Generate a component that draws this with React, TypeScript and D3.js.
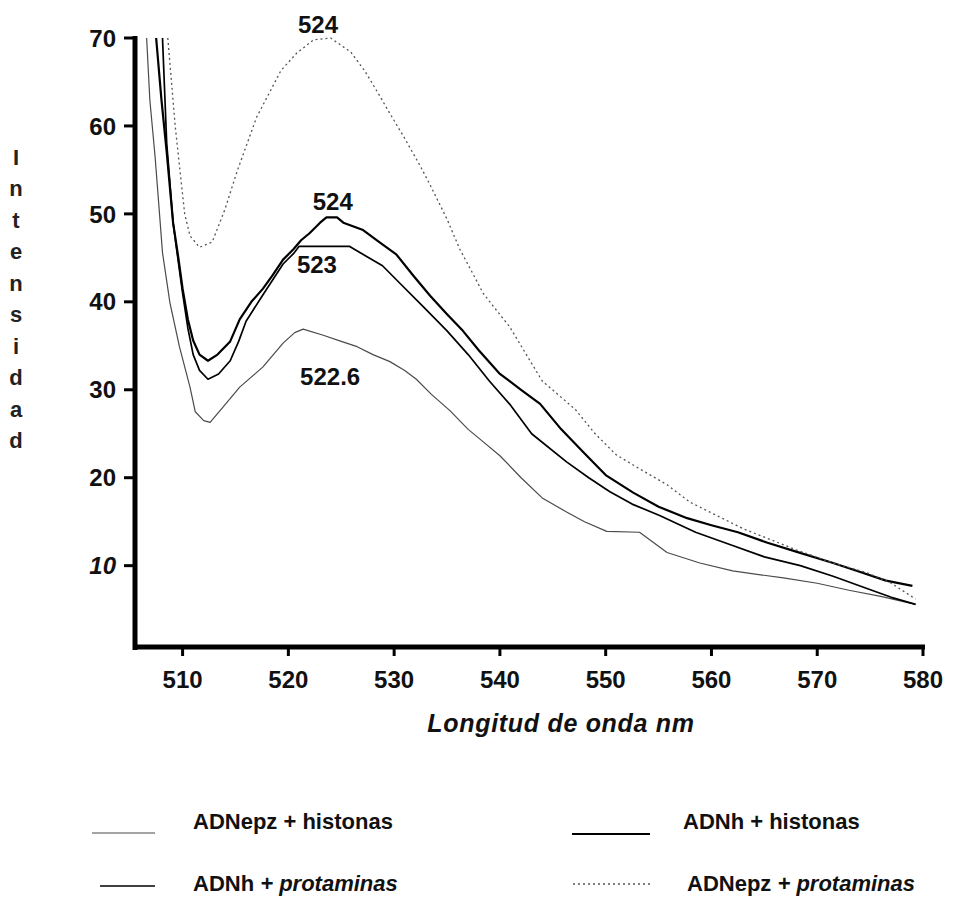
import React from "react";
import * as d3 from "d3";

// ---- data ----
const xTicks = [510, 520, 530, 540, 550, 560, 570, 580];
const yTicks = [10, 20, 30, 40, 50, 60, 70];
const yTitle = "Intensidad";
const xTitle = "Longitud de onda nm";

// ADNepz + protaminas (dotted, peak 524)
const epzProtX = [508.6, 509.3, 509.7, 510.2, 510.7, 511.6, 512.8, 514, 515.2, 517, 519.3, 520.8, 522.4, 524, 525.9, 527.2, 528.5, 529.7, 530.8, 532.4, 533.4, 535, 536.2, 537.4, 538.4, 539.7, 540.9, 542.5, 544, 547.1, 549, 551, 553.5, 555.8, 558, 560.5, 563, 565.3, 568, 571.5, 574.7, 577, 579.3];
const epzProtY = [70, 60, 55.5, 50, 47.5, 46.2, 46.8, 50.5, 55, 61, 66.3, 68.3, 69.8, 70, 68.4, 66.3, 63.7, 61.2, 59, 55.6, 53.3, 49.4, 46, 43.3, 41, 39, 37.2, 34, 31, 27.8, 25, 22.6, 20.8, 19.2, 17.2, 15.7, 14.2, 13.1, 11.8, 10.3, 9.2, 8, 6.2];

// ADNh + histonas (thick, peak 524)
const hHistX = [507.5, 508, 508.5, 509.1, 509.6, 510, 510.5, 511, 511.6, 512.4, 513.3, 514.5, 515.4, 516.5, 517.6, 518.5, 519.5, 520.5, 521.2, 522, 523, 523.6, 524.6, 525.2, 527, 528.6, 530.2, 531.8, 533.4, 535, 536.5, 538, 540, 542, 543.8, 545.8, 547.8, 550, 552.6, 555, 557.7, 560, 562.5, 565.3, 568, 571.5, 574, 576.5, 579];
const hHistY = [70, 63, 57, 49, 45, 41.5, 38, 35.6, 34, 33.3, 34, 35.5, 38, 40, 41.5, 43, 44.8, 46, 47, 47.8, 49, 49.6, 49.6, 49, 48.2, 46.8, 45.4, 43, 40.7, 38.6, 36.7, 34.5, 31.8, 30, 28.4, 25.5, 23, 20.3, 18.3, 16.7, 15.4, 14.6, 13.8, 12.6, 11.6, 10.3, 9.3, 8.3, 7.7];

// ADNh + protaminas (thick, peak 523)
const hProtX = [508.1, 508.5, 509.1, 509.6, 510, 510.5, 511, 511.6, 512.4, 513.4, 514.5, 515.3, 516, 517.6, 519.5, 520.5, 521, 523, 525.8, 527.2, 528.9, 530.8, 532.7, 535, 537, 539, 540.9, 543, 546.3, 548.4, 550.4, 552.5, 555.1, 558.5, 562, 565, 568.4, 571.5, 574.7, 577, 579.3];
const hProtY = [70, 58, 49, 44.5, 41, 37, 34, 32.2, 31.2, 31.8, 33.3, 35.5, 37.8, 40.8, 44.3, 45.5, 46.3, 46.3, 46.3, 45.3, 44.1, 41.8, 39.5, 36.7, 34, 31, 28.4, 25, 21.8, 20, 18.4, 17, 15.7, 13.8, 12.3, 11, 10, 8.8, 7.4, 6.4, 5.6];

// ADNepz + histonas (thin, peak 522.6)
const epzHistX = [506.6, 506.9, 507.4, 508.1, 508.8, 509.7, 510.7, 511.2, 512, 512.6, 513.8, 515.4, 517.6, 519.5, 520.6, 521.4, 523.3, 525, 526.5, 528, 529.6, 531, 532.1, 533.5, 535.3, 537, 538.4, 540, 542, 544, 546.3, 548, 550.1, 553.2, 555.8, 558.9, 562, 566.8, 570, 573, 576, 579.3];
const epzHistY = [70, 63, 56.5, 45.6, 39.9, 34.9, 30.3, 27.5, 26.5, 26.3, 28, 30.3, 32.6, 35.3, 36.5, 36.9, 36.2, 35.5, 34.9, 34, 33.2, 32.2, 31.2, 29.5, 27.6, 25.5, 24.1, 22.5, 20, 17.7, 16.1, 15, 13.9, 13.8, 11.5, 10.3, 9.4, 8.6, 8.0, 7.2, 6.5, 5.6];

const peakLabels = ["524", "524", "523", "522.6"];
const peakLabelX = [522.8, 524.2, 522.7, 523.95];
const peakLabelY = [70.6, 50.45, 43.3, 30.55];

const legendNames = ["ADNepz + histonas", "ADNh + histonas", "ADNh + protaminas", "ADNepz + protaminas"];

const FONT = "'Liberation Sans', Arial, Helvetica, sans-serif";

export default function App() {
  const W = 965, H = 900;
  const x = d3.scaleLinear().domain([505.5, 580]).range([135, 923]);
  const y = d3.scaleLinear().domain([0.75, 70]).range([647, 38]);

  const mk = (xs: number[], ys: number[]) =>
    d3.line<number>().x((_, i) => x(xs[i])).y((_, i) => y(ys[i])).curve(d3.curveLinear)(xs.map((v) => v)) || "";

  const series = [
    { name: legendNames[0], d: mk(epzHistX, epzHistY), stroke: "#4a4a4a", width: 1.2, dash: "" },
    { name: legendNames[1], d: mk(hHistX, hHistY), stroke: "#000", width: 2.2, dash: "" },
    { name: legendNames[2], d: mk(hProtX, hProtY), stroke: "#000", width: 1.7, dash: "" },
    { name: legendNames[3], d: mk(epzProtX, epzProtY), stroke: "#555", width: 1.3, dash: "2 3" },
  ];

  const legendPos = [
    { lx1: 92, lx2: 155, ly: 833, tx: 193, ty: 829 },
    { lx1: 572, lx2: 650, ly: 834, tx: 683, ty: 829 },
    { lx1: 100, lx2: 155, ly: 886, tx: 193, ty: 891 },
    { lx1: 573, lx2: 650, ly: 884, tx: 687, ty: 891 },
  ];

  const axisBottom = y.range()[0];
  const axisLeft = x.range()[0];

  return (
    <div style={{ position: "absolute", left: 0, top: 0 }}>
      <svg width={W} height={H} viewBox={`0 0 ${W} ${H}`} style={{ display: "block", background: "#fff" }}>
        {/* curves */}
        {series.map((s, i) => (
          <path key={i} d={s.d} fill="none" stroke={s.stroke} strokeWidth={s.width}
            strokeDasharray={s.dash || undefined} strokeLinejoin="round" />
        ))}

        {/* axes */}
        <line x1={axisLeft} x2={axisLeft} y1={y(70) - 2} y2={axisBottom + 3} stroke="#000" strokeWidth={5} />
        <line x1={axisLeft - 2} x2={x(580) + 2} y1={axisBottom} y2={axisBottom} stroke="#000" strokeWidth={5} />
        {yTicks.map((t) => (
          <g key={t}>
            <line x1={axisLeft - 11} x2={axisLeft} y1={y(t)} y2={y(t)} stroke="#000" strokeWidth={3} />
            <text x={116} y={y(t)} dy="0.36em" textAnchor="end" fontFamily={FONT} fontSize={24} fontWeight="bold"
              fontStyle={t === 10 ? "italic" : "normal"} fill="#111">
              {t}
            </text>
          </g>
        ))}
        {xTicks.map((t) => (
          <g key={t}>
            <line x1={x(t)} x2={x(t)} y1={axisBottom} y2={axisBottom + 9} stroke="#000" strokeWidth={3} />
            <text x={x(t)} y={688} textAnchor="middle" fontFamily={FONT} fontSize={24} fontWeight="bold"
              fill="#111">
              {t}
            </text>
          </g>
        ))}

        {/* axis titles */}
        {yTitle.split("").map((ch, i) => (
          <text key={i} x={16} y={157 + i * 31.5} dy="0.36em" textAnchor="middle" fontFamily={FONT}
            fontSize={22} fontWeight="bold" fill="#222">
            {ch}
          </text>
        ))}
        <text x={561} y={732} textAnchor="middle" fontFamily={FONT} fontSize={25} fontStyle="italic" fontWeight="bold"
          fill="#111" letterSpacing={0.7}>
          {xTitle}
        </text>

        {/* peak annotations */}
        {peakLabels.map((l, i) => (
          <text key={i} x={x(peakLabelX[i])} y={y(peakLabelY[i])} textAnchor="middle" fontFamily={FONT}
            fontSize={24} fontWeight="bold" fill="#111">
            {l}
          </text>
        ))}

        {/* legend */}
        {series.map((s, i) => {
          const p = legendPos[i];
          const parts = s.name.split(" + ");
          const italic = parts[1] === "protaminas";
          return (
            <g key={i}>
              <line x1={p.lx1} x2={p.lx2} y1={p.ly} y2={p.ly} stroke={s.stroke}
                strokeWidth={s.width} strokeDasharray={s.dash || undefined} />
              <text x={p.tx} y={p.ty} fontFamily={FONT} fontSize={22} fontWeight="bold" fill="#111">
                <tspan>{parts[0]}</tspan>
                <tspan fontStyle={italic ? "italic" : "normal"}>{" + " + parts[1]}</tspan>
              </text>
            </g>
          );
        })}
      </svg>
    </div>
  );
}
